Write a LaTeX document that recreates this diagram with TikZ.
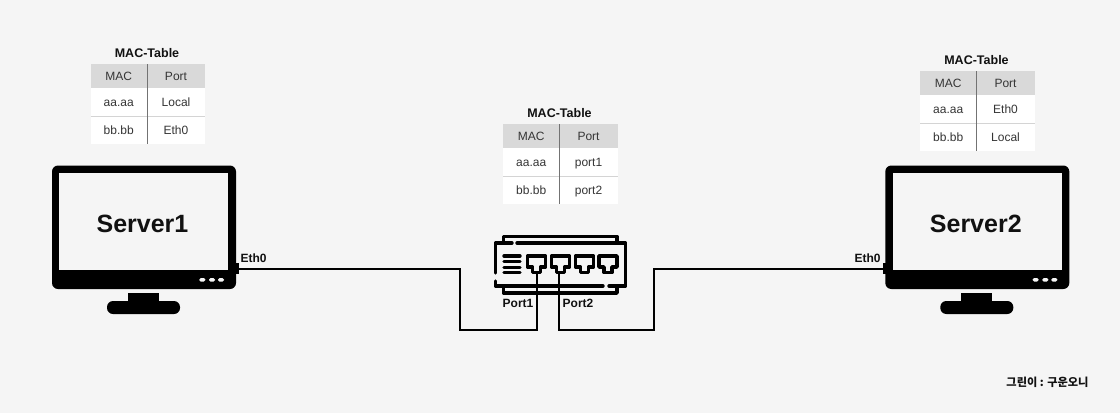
\documentclass[tikz,border=0pt]{standalone}
\usepackage{fontspec}
\setmainfont{Liberation Sans}
\newfontfamily\krfont{Noto Sans CJK KR}
\usetikzlibrary{positioning}
\definecolor{pagebg}{HTML}{F5F5F5}
\definecolor{headbg}{HTML}{D9D9D9}
\definecolor{rowline}{HTML}{D4D4D4}
\definecolor{inkcol}{HTML}{111111}
\tikzset{
  cell/.style={fill=white, minimum width=56.5pt, minimum height=28pt, inner sep=0pt, outer sep=0pt, text height=8.5pt, text depth=0.5pt, font=\fontsize{12}{14}\selectfont, text=inkcol!85},
  headcell/.style={cell, fill=headbg, minimum height=24pt},
  widecell/.style={minimum width=58pt},
  tabletitle/.style={font=\fontsize{12.5}{14}\selectfont\bfseries, text=inkcol},
  portlabel/.style={font=\fontsize{12}{14}\selectfont\bfseries, text=inkcol, inner sep=0pt},
  servername/.style={font=\fontsize{25}{28}\selectfont\bfseries, text=inkcol, inner sep=0pt},
  wire/.style={draw=black, line width=2pt},
  swline/.style={draw=black, line width=3.4pt, line cap=round, line join=round},
  nub/.style={fill=black, minimum width=4pt, minimum height=11pt, inner sep=0pt, outer sep=0pt},
}
% one MAC table: name, top left corner, then the four row cells
\newcommand{\mactable}[6]{
  \node[headcell, anchor=north west] (#1mac) at #2 {MAC};
  \node[headcell, widecell, right=0pt of #1mac] (#1port) {Port};
  \node[cell, below=0pt of #1mac] (#1a) {#3};
  \node[cell, widecell, right=0pt of #1a] (#1b) {#4};
  \node[cell, below=0pt of #1a] (#1c) {#5};
  \node[cell, widecell, right=0pt of #1c] (#1d) {#6};
  \node[tabletitle, above=6.5pt of #1mac.north east, inner sep=0pt] (#1title) {MAC-Table};
  \draw[rowline, line width=0.8pt] (#1a.south west) -- (#1b.south east);
  \draw[black!55, line width=0.8pt] (#1mac.north east) -- (#1c.south east);
}
% one monitor, drawn at the left server's coordinates and shifted
\newcommand{\monitor}[3]{
  \begin{scope}[xshift=#2]
    \fill[black, rounded corners=6pt] (52,165.5) rectangle (236,289);
    \fill[pagebg] (59.3,173.3) rectangle (228.3,270);
    \fill[black] (128,293) rectangle (159,302);
    \fill[black, rounded corners=6pt] (107,301) rectangle (180,314);
    \foreach \dotx in {202.3,212,221}
      \fill[pagebg, rounded corners=1.5pt] (\dotx-3,278) rectangle (\dotx+3,281.6);
    \node[servername] (#1) at (142.5,224) {#3};
  \end{scope}
}
\begin{document}
\begin{tikzpicture}[x=1pt, y=-1pt]
  \fill[pagebg] (0,0) rectangle (1120,413);
  \useasboundingbox (0,0) rectangle (1120,413);

  \mactable{left}{(90.5,64)}{aa.aa}{Local}{bb.bb}{Eth0}
  \mactable{mid}{(503,124)}{aa.aa}{port1}{bb.bb}{port2}
  \mactable{right}{(920,71)}{aa.aa}{Eth0}{bb.bb}{Local}

  \monitor{server1}{0pt}{Server1}
  \monitor{server2}{833.3pt}{Server2}

  \node[nub] (nub1) at (237,268.5) {};
  \node[nub] (nub2) at (884.5,268.5) {};
  \node[portlabel] (eth1) at (253.5,258) {Eth0};
  \node[portlabel] (eth2) at (867.5,258) {Eth0};

  % switch body
  \draw[swline] (503.5,243) -- (503.5,236.5) -- (617,236.5) -- (617,243);
  \draw[swline] (512,243) -- (495.5,243) -- (495.5,273);
  \draw[swline] (517,243) -- (625.5,243) -- (625.5,286) -- (609,286);
  \draw[swline] (603,286) -- (495.5,286) -- (495.5,281);
  \draw[swline] (503.5,286) -- (503.5,293) -- (617,293) -- (617,286);
  \foreach \barY in {256,261.7,267.3,272.7}
    \draw[swline] (504,\barY) -- (520,\barY);
  \foreach \portX in {536.5,560.5,584.5,608}
    \draw[swline] (\portX-9,256) -- (\portX+9,256) -- (\portX+9,267) -- (\portX+4,267) -- (\portX+4,272.5) -- (\portX-4,272.5) -- (\portX-4,267) -- (\portX-9,267) -- cycle;
  \coordinate (port1) at (536.5,272);
  \coordinate (port2) at (559,272);
  \coordinate (bend1) at (460,330);
  \coordinate (bend2) at (654,330);

  \draw[wire] (nub1.east) -| (bend1) -| (port1);
  \draw[wire] (port2) |- (bend2) |- (nub2.west);

  \node[portlabel] (lab1) at (518,303) {Port1};
  \node[portlabel] (lab2) at (578,303) {Port2};

  \node[font=\krfont\fontsize{11.2}{13}\selectfont\bfseries, text=inkcol, inner sep=0pt] (credit) at (1047.5,382) {그린이 : 구운오니};
\end{tikzpicture}
\end{document}
